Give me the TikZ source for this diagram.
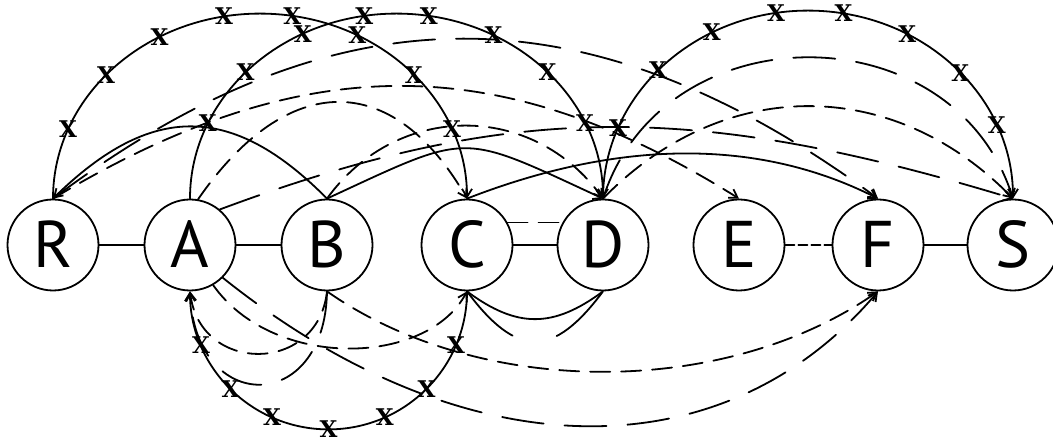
\documentclass[tikz,border=0pt]{standalone}
\usepackage{fontspec}
\newfontfamily\nodefont{PT Sans}
\newfontfamily\markfont{DejaVu Serif}
\usetikzlibrary{arrows.meta,calc}
\begin{document}
\begin{tikzpicture}[x=1pt,y=1pt,
  vertex/.style={circle,draw,line width=1.8pt,minimum size=91pt,inner sep=0pt,
    font=\nodefont\fontsize{66}{66}\selectfont,text height=46pt,text depth=0pt},
  edge/.style={line width=1.8pt,line cap=round},
  sdash/.style={edge,dash pattern=on 20pt off 11pt},
  ldash/.style={edge,dash pattern=on 42pt off 21pt},
  gdash/.style={edge,dash pattern=on 64pt off 46pt},
  fdash/.style={edge,dash pattern=on 9pt off 4pt},
  arr/.style={-{Straight Barb[length=8pt,width=10pt]}},
  xmark/.style={font=\markfont\bfseries\fontsize{23}{23}\selectfont,inner sep=0pt,
    text height=16.5pt,text depth=0pt},
]
\useasboundingbox (0,0) rectangle (1053,443);

% vertices
\node[vertex] (R) at (53,198)   {R};
\node[vertex] (A) at (190,198)  {A};
\node[vertex] (B) at (327,198)  {B};
\node[vertex] (C) at (467,198)  {C};
\node[vertex] (D) at (603,198)  {D};
\node[vertex] (E) at (739,198)  {E};
\node[vertex] (F) at (878,198)  {F};
\node[vertex] (S) at (1013,198) {S};

% straight links
\draw[edge] (R) -- (A);
\draw[edge] (A) -- (B);
\draw[edge] (C) -- (D);
\draw[sdash] (C.29) -- (D.151);
\draw[fdash] (E) -- (F);
\draw[edge] (F) -- (S);

% crossed arcs
\draw[edge,arr] (R.north) arc[start angle=180,end angle=0,x radius=207pt,y radius=185pt];
\foreach \a [count=\i] in {158,138,119,100,81,62,42,22}
  \node[xmark] (xr\i) at ($(R.north)+(207,0)+(\a:207pt and 185pt)$) {X};

\draw[edge,arr] (A.north) arc[start angle=180,end angle=0,x radius=206.5pt,y radius=185pt];
\foreach \a [count=\i] in {156,137,117,99,81,62,43,24}
  \node[xmark] (xa\i) at ($(A.north)+(206.5,0)+(\a:206.5pt and 185pt)$) {X};

\draw[edge,arr] (D.north) arc[start angle=180,end angle=0,x radius=205pt,y radius=188pt];
\foreach \a [count=\i] in {158,137,118,99,80,61,42,23}
  \node[xmark] (xd\i) at ($(D.north)+(205,0)+(\a:205pt and 188pt)$) {X};

\draw[edge,arr] (C.south) arc[start angle=0,end angle=-180,x radius=138.5pt,y radius=138pt];
\foreach \a [count=\i] in {203,225,246,270,294,315,337}
  \node[xmark] (xc\i) at ($(A.south)+(138.5,0)+(\a:138.5pt and 138pt)$) {X};

% upper solid curves
\draw[edge,arr] (B.north) .. controls +(-95,96) and +(98,96) .. (R.north);
\draw[edge,arr] (B.north) .. controls +(145,67) and +(-145,67) .. (D.north);
\draw[edge,arr] (C.north) .. controls +(154,60) and +(-118,60) .. (F.north);

% upper dashed curves
\draw[sdash,arr] (A.80) .. controls +(90,130) and +(-74,128) .. (C.north);
\draw[sdash,arr] (R.north) .. controls +(250,150) and +(-240,150) .. (E.north);
\draw[ldash,arr] (R.north) .. controls +(284,213) and +(-290,213) .. (F.north);
\draw[ldash,arr] (A.50) .. controls +(290,108) and +(-320,97) .. (S.north);
\draw[sdash,arr] (B.north) .. controls +(70,97) and +(-70,97) .. (D.north);
\draw[sdash,arr] (D.north) .. controls +(120,123) and +(-120,123) .. (S.north);
\draw[ldash,arr] (D.north) .. controls +(60,188) and +(-60,188) .. (S.north);

% lower curves
\draw[edge] (C.south) .. controls +(50,-37) and +(-50,-37) .. (D.south);
\draw[gdash] (C.south) .. controls +(50,-67) and +(-50,-67) .. (D.south);
\draw[sdash,arr] (B.south) .. controls +(153,-107) and +(-153,-107) .. (F.south);
\draw[ldash,arr] (A.-45) .. controls +(244,-195) and +(-154,-182) .. (F.south);
\draw[sdash,arr] (B.south) .. controls +(-9,-83) and +(10,-83) .. (A.south);
\draw[ldash,arr] (B.south) .. controls +(-2,-124) and +(5,-124) .. (A.south);
\draw[sdash,arr] (A.-60) .. controls +(60,-85) and +(-40,-75) .. (C.south);
\end{tikzpicture}
\end{document}
